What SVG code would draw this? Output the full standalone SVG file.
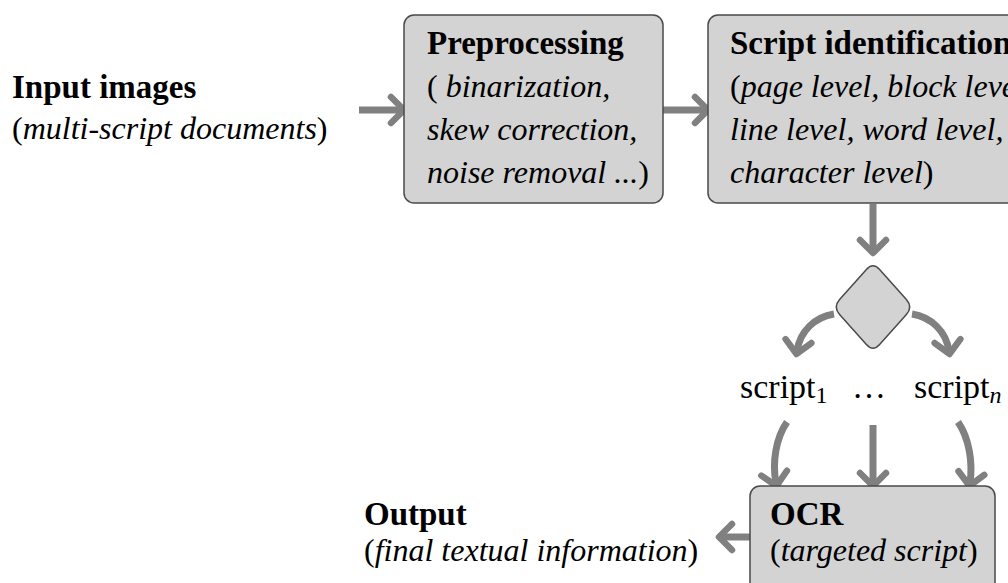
<svg xmlns="http://www.w3.org/2000/svg" width="1008" height="583" viewBox="0 0 1008 583">
<style>
.t{font-family:"Liberation Serif","Times New Roman",serif;font-size:32px;fill:#000}
.b{font-weight:bold;font-size:33px}
.i{font-style:italic}
.s{font-size:34px}
.box{fill:#d3d3d3;stroke:#4a4a4a;stroke-width:1.5}
.c{fill:none;stroke:#808080;stroke-width:7;marker-end:url(#ah)}
</style>
<defs>
<marker id="ah" markerUnits="userSpaceOnUse" markerWidth="40" markerHeight="40" refX="17" refY="20" orient="auto" overflow="visible">
<path d="M7 7 L20 20 L7 33" fill="none" stroke="#808080" stroke-width="6.5" stroke-linecap="round" stroke-linejoin="round"/>
</marker>
</defs>
<rect width="1008" height="583" fill="#fff"/>
<g id="connectors">
<path class="c" d="M359 110 L401 110"/>
<path class="c" d="M663 110 L705 110"/>
<path class="c" d="M873 204 L873 250"/>
<path class="c" d="M834 314 C815 317 800 331 797 351"/>
<path class="c" d="M912 314 C931 317 946 331 949 351"/>
<path class="c" d="M787 422 C776 438 772 462 776 483"/>
<path class="c" d="M873 425 L873 483"/>
<path class="c" d="M958 422 C969 438 973 462 970 483"/>
<path class="c" d="M750 537 L722 537"/>
</g>
<g id="input">
<text class="t b" x="12" y="98">Input images</text>
<text class="t" x="12" y="139">(<tspan class="i">multi-script documents</tspan>)</text>
</g>
<g id="preprocessing">
<rect class="box" x="404" y="15" width="259" height="188" rx="10"/>
<text class="t b" x="427" y="54">Preprocessing</text>
<text class="t" x="427" y="97">( <tspan class="i">binarization,</tspan></text>
<text class="t i" x="427" y="140">skew correction,</text>
<text class="t" x="427" y="183"><tspan class="i">noise removal ...</tspan>)</text>
</g>
<g id="script-identification">
<rect class="box" x="708" y="15" width="330" height="188" rx="10"/>
<text class="t b" x="730" y="54">Script identification</text>
<text class="t" x="730" y="97">(<tspan class="i">page level, block level</tspan></text>
<text class="t i" x="730" y="140">line level, word level,</text>
<text class="t" x="730" y="183"><tspan class="i">character level</tspan>)</text>
</g>
<g id="decision">
<path class="box" d="M866.4 269.5 Q873 262 879.6 269.5 L906.4 299.5 Q913 307 906.4 314.5 L879.6 344.5 Q873 352 866.4 344.5 L839.6 314.5 Q833 307 839.6 299.5 Z"/>
</g>
<g id="scripts">
<text class="t s" x="740" y="398">script<tspan font-size="24" dy="5">1</tspan></text>
<text class="t s" x="852" y="398">…</text>
<text class="t s" x="914" y="398">script<tspan class="i" font-size="24" dy="5">n</tspan></text>
</g>
<g id="ocr">
<rect class="box" x="750" y="486" width="245" height="120" rx="10"/>
<text class="t b" x="770" y="525">OCR</text>
<text class="t" x="770" y="561">(<tspan class="i">targeted script</tspan>)</text>
</g>
<g id="output">
<text class="t b" x="364" y="525">Output</text>
<text class="t" x="364" y="561">(<tspan class="i">final textual information</tspan>)</text>
</g>
</svg>
